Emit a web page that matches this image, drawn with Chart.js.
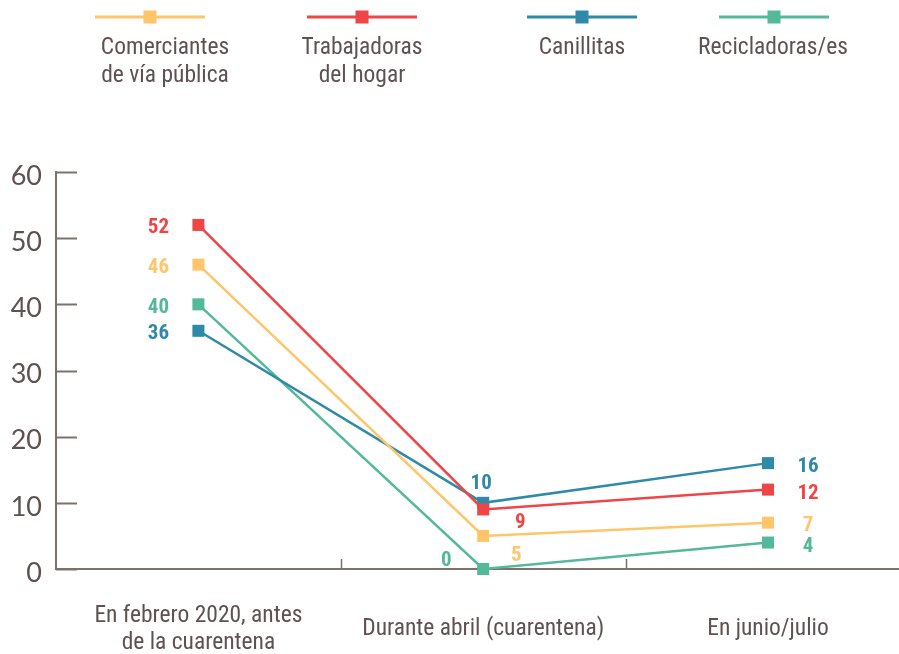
<!DOCTYPE html>
<html>
<head>
<meta charset="utf-8">
<script src="https://cdn.jsdelivr.net/npm/chart.js@4.4.1/dist/chart.umd.min.js"></script>
<style>
  html, body { margin: 0; padding: 0; background: #fff; }
  #wrap { width: 899px; height: 654px; position: relative; }
</style>
</head>
<body>
<div id="wrap"><canvas id="chart"></canvas></div>
<script>
// =======================================================
// Data
// =======================================================
const categories = [
  ['En febrero 2020, antes', 'de la cuarentena'],
  'Durante abril (cuarentena)',
  'En junio/julio',
]
const seriesNames = [
  ['Comerciantes', 'de vía pública'],
  ['Trabajadoras', 'del hogar'],
  ['Canillitas'],
  ['Recicladoras/es'],
]
const comerciantes = [46, 5, 7]
const trabajadoras = [52, 9, 12]
const canillitas = [36, 10, 16]
const recicladoras = [40, 0, 4]
const yTicks = [0, 10, 20, 30, 40, 50, 60]

// =======================================================
// Style
// =======================================================
const colors = ['#fec56b', '#ee4646', '#2e8aa8', '#53b99a']
const textColor = '#5e5250'
const axisColor = '#7d716e'
const condensed = '"Roboto Condensed", "Liberation Sans Narrow", "DejaVu Sans Condensed", Roboto, sans-serif'

// label offsets (dx, dy) per dataset per category
const labelOffsets = [
  [[-40, 3], [33, 20], [40, 3]],
  [[-40, 3], [37, 13], [40, 4]],
  [[-40, 3], [-2, -19], [40, 4]],
  [[-40, 3], [-37, -8], [40, 4]],
]
// legend item centers (x)
const legendX = [150, 362, 582, 774]
const legendTextX = [165, 362, 582, 773]

const allSeries = [comerciantes, trabajadoras, canillitas, recicladoras]

const datasets = allSeries.map((vals, i) => ({
  label: seriesNames[i].join(' '),
  data: vals.map((v, j) => ({ x: j, y: v })),
  borderColor: colors[i],
  backgroundColor: colors[i],
  borderWidth: 2.5,
  pointStyle: 'rect',
  pointRadius: 8.5,
  pointHoverRadius: 8.5,
  pointBorderWidth: 0,
  tension: 0,
  clip: false,
}))

// =======================================================
// Plugins
// =======================================================
const decorPlugin = {
  id: 'decor',
  afterDraw(chart) {
    const { ctx, scales, chartArea } = chart
    const x = scales.x
    const y = scales.y
    ctx.save()

    // y tick marks (inside)
    ctx.strokeStyle = axisColor
    ctx.lineWidth = 2
    yTicks.forEach((t) => {
      const py = Math.round(y.getPixelForValue(t)) + 0.5
      ctx.beginPath()
      ctx.moveTo(chartArea.left, py)
      ctx.lineTo(chartArea.left + 21, py)
      ctx.stroke()
    })
    // x separators
    ctx.lineWidth = 1.5
    ;[0.5, 1.5].forEach((t) => {
      const px = Math.round(x.getPixelForValue(t)) + 0.5
      ctx.beginPath()
      ctx.moveTo(px, chartArea.bottom)
      ctx.lineTo(px, chartArea.bottom - 10)
      ctx.stroke()
    })

    // value labels
    ctx.font = 'bold 21px ' + condensed
    ctx.textAlign = 'center'
    ctx.textBaseline = 'middle'
    chart.data.datasets.forEach((ds, i) => {
      const meta = chart.getDatasetMeta(i)
      meta.data.forEach((pt, j) => {
        const off = labelOffsets[i][j]
        ctx.fillStyle = colors[i]
        ctx.fillText(String(allSeries[i][j]), pt.x + off[0], pt.y + off[1])
      })
    })

    // legend
    ctx.font = '23.5px ' + condensed
    seriesNames.forEach((name, i) => {
      const cx = legendX[i]
      ctx.strokeStyle = colors[i]
      ctx.lineWidth = 3
      ctx.beginPath()
      ctx.moveTo(cx - 55, 17)
      ctx.lineTo(cx + 55, 17)
      ctx.stroke()
      ctx.fillStyle = colors[i]
      ctx.fillRect(cx - 6.5, 10.5, 13, 13)
      ctx.fillStyle = textColor
      name.forEach((line, k) => {
        ctx.fillText(line, legendTextX[i], 48 + k * 28)
      })
    })
    ctx.restore()
  },
}

// =======================================================
// Chart
// =======================================================
new Chart(document.getElementById('chart'), {
  type: 'line',
  data: { datasets },
  options: {
    responsive: true,
    maintainAspectRatio: false,
    animation: false,
    layout: { autoPadding: false, padding: { top: 172, left: 0, right: 0, bottom: 0 } },
    plugins: {
      legend: { display: false },
      tooltip: { enabled: false },
    },
    scales: {
      x: {
        type: 'linear',
        min: -0.5,
        max: 2.46,
        afterBuildTicks(scale) {
          scale.ticks = [0, 1, 2].map((v) => ({ value: v }))
        },
        afterFit(scale) {
          scale.height = 85
        },
        grid: { display: false, drawTicks: false },
        border: { display: true, color: axisColor, width: 2 },
        ticks: {
          autoSkip: false,
          maxRotation: 0,
          padding: 47,
          color: textColor,
          font: { family: condensed, size: 23.5, lineHeight: 1.15 },
          crossAlign: 'center',
          callback: (v) => categories[v],
        },
      },
      y: {
        min: 0,
        max: 60,
        afterBuildTicks(scale) {
          scale.ticks = yTicks.map((v) => ({ value: v }))
        },
        afterFit(scale) {
          scale.width = 56
        },
        grid: { display: false, drawTicks: false },
        border: { display: true, color: axisColor, width: 2 },
        ticks: {
          padding: 14,
          labelOffset: 4,
          color: textColor,
          font: { family: 'Lato', size: 27 },
        },
      },
    },
  },
  plugins: [decorPlugin],
})
</script>
</body>
</html>
